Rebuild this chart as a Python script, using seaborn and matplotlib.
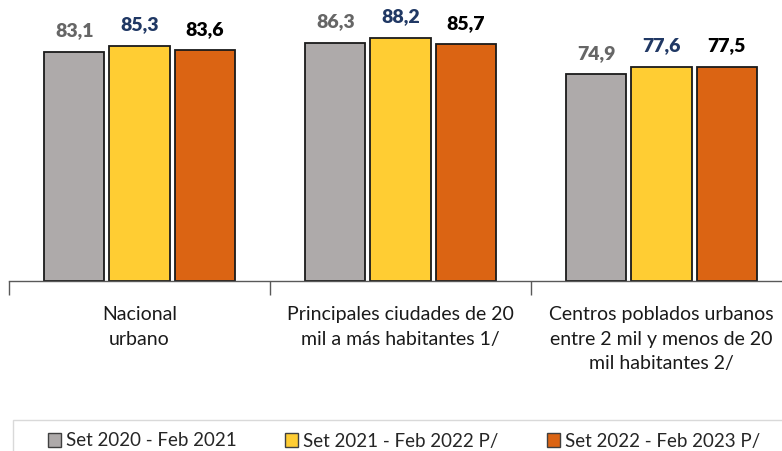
import matplotlib
matplotlib.use("Agg")
import matplotlib.pyplot as plt
from matplotlib.patches import Rectangle
import seaborn as sns
import pandas as pd

categories = [
    "Nacional\nurbano",
    "Principales ciudades de 20\nmil a más habitantes 1/",
    "Centros poblados urbanos\nentre 2 mil y menos de 20\nmil habitantes 2/",
]
periods = ["Set 2020 - Feb 2021", "Set 2021 - Feb 2022 P/", "Set 2022 - Feb 2023 P/"]
values_2020 = [83.1, 86.3, 74.9]
values_2021 = [85.3, 88.2, 77.6]
values_2022 = [83.6, 85.7, 77.5]

bar_colors = ["#AEAAAA", "#FFCD33", "#DB6413"]
label_colors = ["#666666", "#203864", "#000000"]

rows = []
for period, vals in zip(periods, [values_2020, values_2021, values_2022]):
    for cat, v in zip(categories, vals):
        rows.append({"categoria": cat, "periodo": period, "valor": v})
df = pd.DataFrame(rows)

sns.set_theme(style="white")
plt.rcParams["font.family"] = ["Lato", "DejaVu Sans"]

fig = plt.figure(figsize=(7.82, 4.51), dpi=100)
W, H = 782, 451
ax = fig.add_axes([9 / W, (H - 281) / H, 783 / W, 281 / H])

sns.barplot(
    data=df, x="categoria", y="valor", hue="periodo",
    order=categories, hue_order=periods,
    palette=bar_colors, width=0.75, gap=0.08,
    edgecolor="#1a1a1a", linewidth=1.3, saturation=1,
    legend=False, ax=ax,
)

for container, col in zip(ax.containers, label_colors):
    ax.bar_label(
        container, labels=[f"{b.get_height():.1f}".replace(".", ",") for b in container],
        padding=9, color=col, fontsize=14, fontweight="heavy",
    )

ax.set_xlim(-0.5, 2.5)
ax.set_ylim(0, 101.8)
ax.set_xlabel("")
ax.set_ylabel("")
ax.set_yticks([])
for side in ["top", "right", "left"]:
    ax.spines[side].set_visible(False)
ax.spines["bottom"].set_color("#595959")
ax.spines["bottom"].set_linewidth(1.0)

ax.set_xticks([0, 1, 2])
ax.set_xticklabels(categories, fontsize=14, color="#1a1a1a", linespacing=1.55, va="top")
ax.tick_params(axis="x", which="major", length=0, pad=18)
ax.set_xticks([-0.5, 0.5, 1.5, 2.5], minor=True)
ax.tick_params(axis="x", which="minor", length=10, width=1.0, color="#595959", bottom=True)

# legend frame
fig.patches.append(Rectangle((13 / W, -0.05), 1.0, (H - 420) / H + 0.05,
                             transform=fig.transFigure, fill=False,
                             edgecolor="#D9D9D9", linewidth=1.0))
handles = [Rectangle((0, 0), 1, 1, facecolor=c, edgecolor="#404040", linewidth=1.0)
           for c in bar_colors]
fig.legend(handles, periods, loc="center left", bbox_to_anchor=(48 / W, (H - 441) / H),
           ncol=3, frameon=False, fontsize=13.5, handlelength=0.7, handleheight=0.7,
           handletextpad=0.25, columnspacing=2.6, borderpad=0, borderaxespad=0)

fig.savefig("out.png", dpi=100)
